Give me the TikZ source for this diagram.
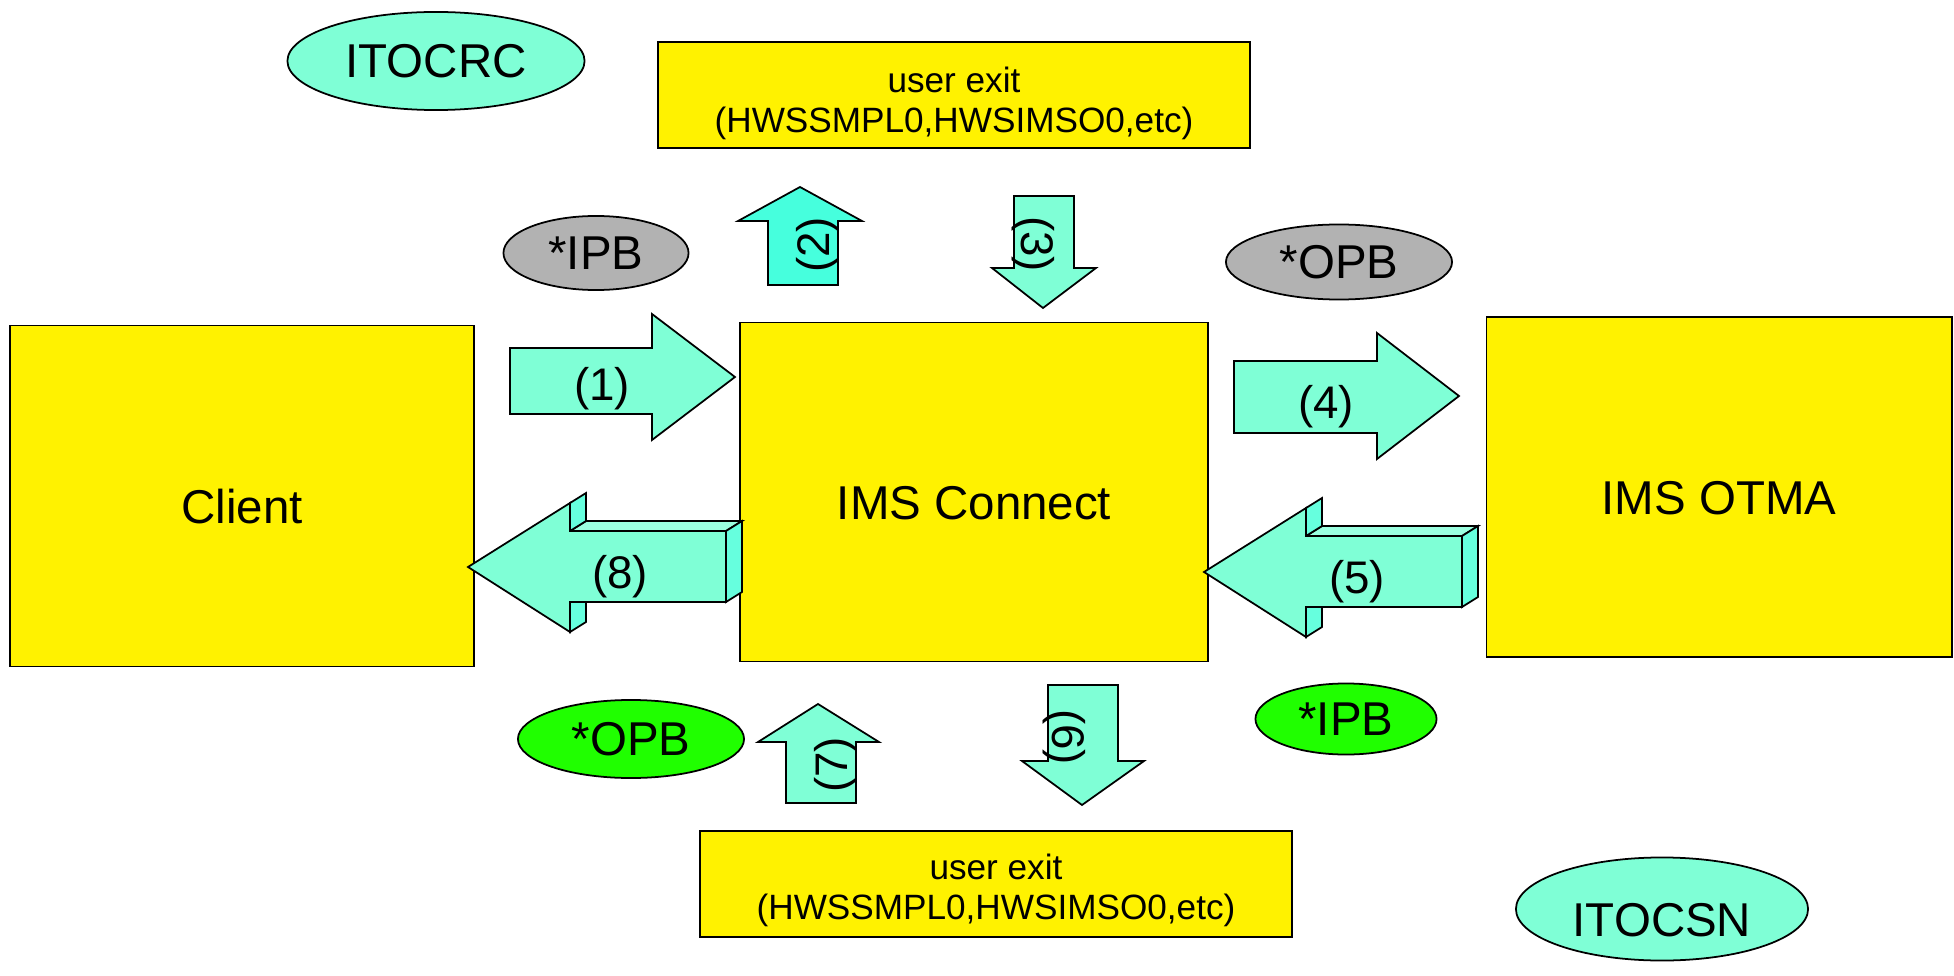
\documentclass[tikz,border=0pt]{standalone}
\usepackage{fontspec}
\setmainfont{Liberation Sans}
\usetikzlibrary{shapes.geometric}

\definecolor{aqua}{RGB}{127,255,214}
\definecolor{aquadeep}{RGB}{70,255,221}
\definecolor{aquaside}{RGB}{102,255,222}
\definecolor{aquatop}{RGB}{155,255,224}
\definecolor{blobgray}{RGB}{178,178,178}
\definecolor{blobgreen}{RGB}{32,255,0}

\begin{document}
\begin{tikzpicture}[x=0.01cm,y=-0.01cm,
    bigbox/.style={draw,fill=yellow,line width=0.5pt,font=\fontsize{13.5}{16}\selectfont,
                   text height=15.4pt,text depth=0pt},
    exitbox/.style={draw,fill=yellow,line width=0.5pt,minimum width=5.92cm,minimum height=1.06cm},
    exittext/.style={align=center,inner sep=0pt,font=\fontsize{10}{11.4}\selectfont},
    blob/.style={ellipse,draw,line width=0.5pt,inner sep=0pt,font=\fontsize{13.5}{16}\selectfont},
    blockarr/.style={draw,fill=aqua,line width=0.5pt,line join=miter},
    num/.style={font=\fontsize{13}{15}\selectfont,inner sep=0pt}]

  \useasboundingbox (0,0) rectangle (1954,976);

  \pgfmathsetmacro\dx{16}   % depth of the 3d arrows
  \pgfmathsetmacro\dy{-10}

% main boxes
  \node[bigbox,minimum width=4.64cm,minimum height=3.41cm] (client) at (242,496) {Client};
  \node[bigbox,minimum width=4.67cm,minimum height=3.39cm] (connect) at (974,492) {IMS Connect};
  \node[bigbox,minimum width=4.65cm,minimum height=3.40cm] (otma) at (1719,487) {IMS OTMA};

% user exits
  \node[exitbox] (exittop) at (954,95) {};
  \node[exittext] (exittoptext) at ([yshift=-2.3pt]exittop.center) {user exit\\(HWSSMPL0,HWSIMSO0,etc)};
  \node[exitbox] (exitbot) at (996,884) {};
  \node[exittext] (exitbottext) at ([yshift=-1.7pt]exitbot.center) {user exit\\(HWSSMPL0,HWSIMSO0,etc)};

% ellipses
  \node[blob,fill=aqua,minimum width=2.97cm,minimum height=0.98cm] (itocrc) at (436,61) {ITOCRC};
  \node[blob,fill=blobgray,minimum width=1.85cm,minimum height=0.74cm] (ipbtop) at (596,253) {*IPB};
  \node[blob,fill=blobgray,minimum width=2.26cm,minimum height=0.75cm] (opbtop) at (1339,262) {*OPB};
  \node[blob,fill=blobgreen,minimum width=2.26cm,minimum height=0.78cm] (opbbot) at (631,739) {*OPB};
  \node[blob,fill=blobgreen,minimum width=1.81cm,minimum height=0.71cm] (ipbbot) at (1346,719) {*IPB};
  \node[blob,fill=aqua,minimum width=2.92cm,minimum height=1.03cm,
        text height=15.9pt,text depth=0pt] (itocsn) at (1662,909) {ITOCSN};

% flat arrows
  \draw[blockarr] (510,348) -- (652,348) -- (652,314) -- (735,377) -- (652,440)
                  -- (652,414) -- (510,414) -- cycle;                      % (1)
  \draw[blockarr,fill=aquadeep] (768,285) -- (768,221) -- (738,221) -- (800,187) -- (862,221)
                  -- (838,221) -- (838,285) -- cycle;                      % (2)
  \draw[blockarr] (1014,196) -- (1074,196) -- (1074,268) -- (1096,268) -- (1043,308)
                  -- (992,268) -- (1014,268) -- cycle;                     % (3)
  \draw[blockarr] (1234,361) -- (1377,361) -- (1377,333) -- (1459,396) -- (1377,459)
                  -- (1377,433) -- (1234,433) -- cycle;                    % (4)
  \draw[blockarr] (786,803) -- (786,742) -- (758,742) -- (818,704) -- (879,742)
                  -- (856,742) -- (856,803) -- cycle;                      % (7)
  \draw[blockarr] (1048,685) -- (1118,685) -- (1118,761) -- (1144,761) -- (1082,805)
                  -- (1022,761) -- (1048,761) -- cycle;                    % (6)

% 3d arrows (8) and (5)
  \foreach \sx/\sy in {0/0,736/5}{
    \begin{scope}[shift={(\sx,\sy)}]
      \draw[blockarr,fill=aquatop] (570,531) -- (726,531) -- (726+\dx,531+\dy) -- (570+\dx,531+\dy) -- cycle;
      \draw[blockarr,fill=aquaside] (726,531) -- (726+\dx,531+\dy) -- (726+\dx,602+\dy) -- (726,602) -- cycle;
      \draw[blockarr,fill=aquaside] (570,503) -- (570+\dx,503+\dy) -- (570+\dx,531+\dy) -- (570,531) -- cycle;
      \draw[blockarr,fill=aquaside] (570,602) -- (570+\dx,602) -- (570+\dx,632+\dy) -- (570,632) -- cycle;
      \draw[blockarr] (468,567) -- (570,503) -- (570,531) -- (726,531) -- (726,602)
                      -- (570,602) -- (570,632) -- cycle;
    \end{scope}
  }

% arrow labels
  \node[num] (n1) at (602,389) {(1)};
  \node[num,rotate=90] (n2) at (818,245) {(2)};
  \node[num,rotate=-90] (n3) at (1033,244) {(3)};
  \node[num] (n4) at (1326,407) {(4)};
  \node[num] (n5) at (1357,582) {(5)};
  \node[num,rotate=-90] (n6) at (1064,737) {(6)};
  \node[num,rotate=90] (n7) at (836,765) {(7)};
  \node[num] (n8) at (620,577) {(8)};

\end{tikzpicture}
\end{document}
